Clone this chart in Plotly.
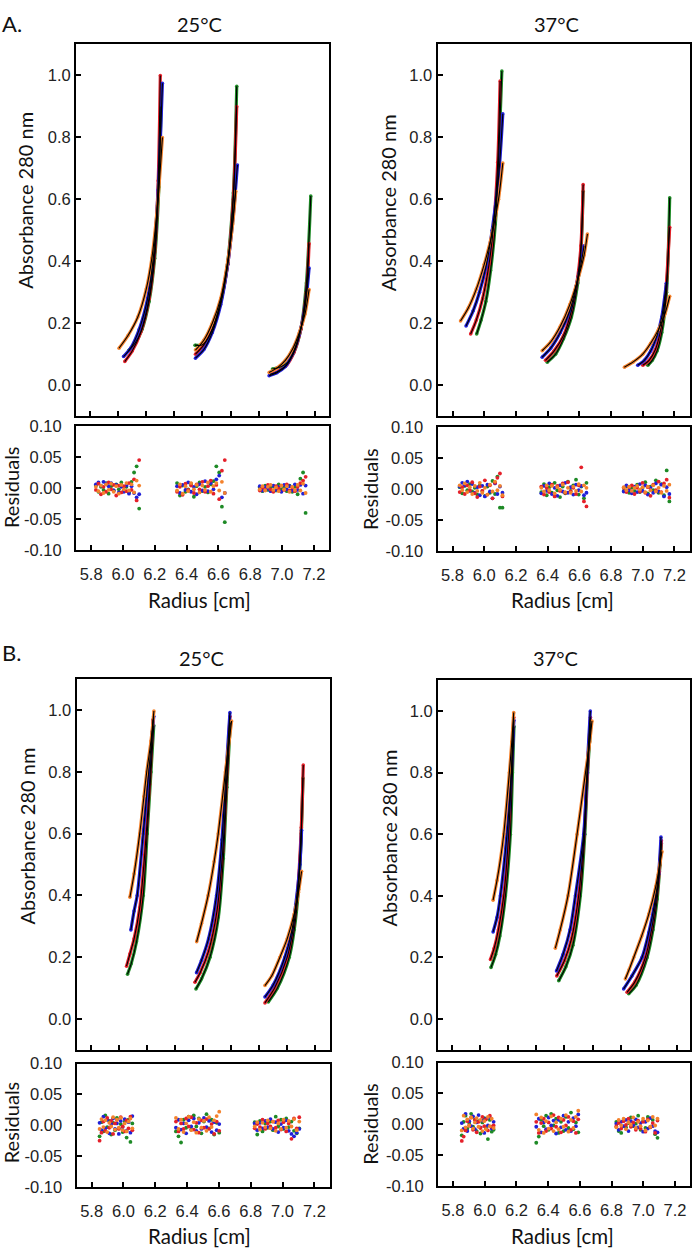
import plotly.graph_objects as go

W, H = 693, 1256

# ---------------- data: absorbance scans (3 cells, 4 speeds per panel) ----------------
A25_ORANGE_X = [[5.806, 5.87, 5.94, 6.00, 6.04, 6.08, 6.115], [6.35, 6.41, 6.47, 6.53, 6.58, 6.615, 6.637], [6.874, 6.93, 6.99, 7.04, 7.09, 7.13, 7.159]]
A25_ORANGE_Y = [[0.119, 0.16, 0.22, 0.31, 0.41, 0.58, 0.80], [0.113, 0.145, 0.20, 0.28, 0.40, 0.52, 0.626], [0.041, 0.055, 0.08, 0.115, 0.17, 0.23, 0.309]]
A25_BLUE_X = [[5.838, 5.89, 5.95, 6.01, 6.05, 6.085, 6.115], [6.35, 6.41, 6.47, 6.53, 6.58, 6.62, 6.649], [6.874, 6.93, 6.99, 7.04, 7.09, 7.13, 7.159]]
A25_BLUE_Y = [[0.092, 0.12, 0.18, 0.28, 0.41, 0.63, 0.975], [0.087, 0.115, 0.17, 0.26, 0.39, 0.55, 0.711], [0.03, 0.04, 0.06, 0.10, 0.165, 0.25, 0.378]]
A25_RED_X = [[5.847, 5.90, 5.96, 6.02, 6.06, 6.085, 6.10], [6.35, 6.41, 6.47, 6.53, 6.58, 6.62, 6.644], [6.88, 6.94, 7.00, 7.05, 7.10, 7.14, 7.159]]
A25_RED_Y = [[0.076, 0.11, 0.17, 0.28, 0.43, 0.66, 1.0], [0.10, 0.13, 0.18, 0.27, 0.39, 0.60, 0.90], [0.034, 0.045, 0.065, 0.105, 0.18, 0.30, 0.457]]
A25_GREEN_X = [[5.875, 5.92, 5.97, 6.02, 6.06, 6.09, 6.105], [6.347, 6.40, 6.46, 6.52, 6.575, 6.62, 6.644], [6.898, 6.95, 7.00, 7.05, 7.10, 7.14, 7.171]]
A25_GREEN_Y = [[0.112, 0.135, 0.18, 0.27, 0.41, 0.64, 0.90], [0.129, 0.13, 0.17, 0.25, 0.38, 0.62, 0.965], [0.052, 0.058, 0.07, 0.105, 0.18, 0.33, 0.611]]

A37_ORANGE_X = [[5.85, 5.90, 5.95, 6.00, 6.05, 6.09, 6.117], [6.365, 6.42, 6.48, 6.54, 6.59, 6.63, 6.651], [6.884, 6.94, 7.00, 7.05, 7.10, 7.14, 7.17]]
A37_ORANGE_Y = [[0.207, 0.25, 0.31, 0.39, 0.49, 0.60, 0.717], [0.111, 0.14, 0.19, 0.26, 0.34, 0.42, 0.488], [0.058, 0.075, 0.10, 0.135, 0.18, 0.23, 0.287]]
A37_BLUE_X = [[5.885, 5.93, 5.97, 6.01, 6.05, 6.09, 6.117], [6.365, 6.42, 6.48, 6.54, 6.58, 6.61, 6.63], [6.968, 7.01, 7.05, 7.09, 7.12, 7.149]]
A37_BLUE_Y = [[0.191, 0.24, 0.30, 0.38, 0.50, 0.67, 0.876], [0.09, 0.12, 0.17, 0.24, 0.32, 0.39, 0.45], [0.064, 0.08, 0.11, 0.16, 0.22, 0.329]]
A37_RED_X = [[5.914, 5.95, 5.99, 6.03, 6.06, 6.085, 6.10], [6.386, 6.44, 6.50, 6.55, 6.59, 6.61, 6.624], [7.0, 7.04, 7.08, 7.11, 7.14, 7.17]]
A37_RED_Y = [[0.165, 0.21, 0.28, 0.39, 0.52, 0.72, 0.982], [0.08, 0.11, 0.16, 0.24, 0.35, 0.45, 0.648], [0.064, 0.08, 0.115, 0.17, 0.27, 0.51]]
A37_GREEN_X = [[5.952, 5.98, 6.01, 6.04, 6.07, 6.09, 6.111], [6.397, 6.45, 6.50, 6.55, 6.59, 6.61, 6.624], [7.032, 7.06, 7.09, 7.12, 7.15, 7.17]]
A37_GREEN_Y = [[0.165, 0.21, 0.27, 0.37, 0.52, 0.72, 1.014], [0.074, 0.10, 0.15, 0.22, 0.33, 0.43, 0.626], [0.064, 0.08, 0.11, 0.17, 0.30, 0.605]]

B25_ORANGE_X = [[5.88, 5.91, 5.95, 5.98, 6.00, 6.03, 6.051], [6.355, 6.39, 6.437, 6.48, 6.509, 6.56, 6.604], [6.841, 6.89, 6.948, 7.00, 7.05, 7.08, 7.102]]
B25_ORANGE_Y = [[0.394, 0.47, 0.60, 0.72, 0.80, 0.90, 0.997], [0.25, 0.31, 0.40, 0.51, 0.60, 0.80, 0.965], [0.108, 0.14, 0.20, 0.26, 0.34, 0.41, 0.478]]
B25_BLUE_X = [[5.887, 5.91, 5.932, 5.975, 6.01, 6.04, 6.05], [6.354, 6.39, 6.44, 6.497, 6.535, 6.565, 6.592], [6.841, 6.90, 6.983, 7.03, 7.06, 7.09, 7.102]]
B25_BLUE_Y = [[0.288, 0.35, 0.40, 0.60, 0.78, 0.93, 0.98], [0.15, 0.19, 0.26, 0.40, 0.58, 0.80, 0.992], [0.071, 0.11, 0.20, 0.28, 0.37, 0.50, 0.611]]
B25_RED_X = [[5.856, 5.88, 5.91, 5.95, 5.985, 6.02, 6.045], [6.343, 6.38, 6.44, 6.50, 6.54, 6.567, 6.592], [6.841, 6.91, 7.00, 7.045, 7.075, 7.10, 7.114]]
B25_RED_Y = [[0.171, 0.21, 0.26, 0.36, 0.53, 0.76, 0.97], [0.119, 0.15, 0.22, 0.35, 0.54, 0.76, 0.98], [0.052, 0.10, 0.20, 0.30, 0.42, 0.62, 0.822]]
B25_GREEN_X = [[5.863, 5.89, 5.927, 5.975, 6.003, 6.03, 6.05], [6.35, 6.39, 6.45, 6.51, 6.545, 6.57, 6.595], [6.865, 6.93, 7.014, 7.05, 7.08, 7.10, 7.112]]
B25_GREEN_Y = [[0.145, 0.18, 0.25, 0.40, 0.60, 0.80, 0.95], [0.097, 0.13, 0.20, 0.33, 0.52, 0.75, 0.96], [0.055, 0.10, 0.20, 0.29, 0.42, 0.60, 0.78]]

B37_ORANGE_X = [[5.892, 5.92, 5.945, 5.968, 6.008, 6.025, 6.039], [6.335, 6.37, 6.425, 6.49, 6.55, 6.58, 6.596], [6.833, 6.86, 6.893, 6.95, 7.00, 7.05, 7.094]]
B37_ORANGE_Y = [[0.386, 0.45, 0.52, 0.60, 0.80, 0.90, 0.995], [0.23, 0.29, 0.40, 0.60, 0.80, 0.90, 0.968], [0.13, 0.16, 0.20, 0.27, 0.34, 0.43, 0.544]]
B37_BLUE_X = [[5.892, 5.92, 5.944, 5.991, 6.022, 6.035, 6.04], [6.343, 6.39, 6.44, 6.478, 6.537, 6.56, 6.584], [6.821, 6.88, 6.952, 7.00, 7.04, 7.07, 7.087]]
B37_BLUE_Y = [[0.283, 0.33, 0.40, 0.60, 0.80, 0.92, 0.97], [0.156, 0.21, 0.29, 0.40, 0.60, 0.80, 1.0], [0.098, 0.14, 0.20, 0.28, 0.37, 0.47, 0.591]]
B37_RED_X = [[5.873, 5.90, 5.93, 5.968, 6.003, 6.022, 6.039], [6.345, 6.40, 6.45, 6.501, 6.54, 6.563, 6.585], [6.845, 6.90, 6.976, 7.02, 7.05, 7.075, 7.09]]
B37_RED_Y = [[0.193, 0.23, 0.29, 0.40, 0.60, 0.80, 0.98], [0.14, 0.19, 0.26, 0.40, 0.60, 0.80, 0.98], [0.087, 0.12, 0.20, 0.29, 0.38, 0.48, 0.58]]
B37_GREEN_X = [[5.877, 5.91, 5.94, 5.98, 6.015, 6.03, 6.041], [6.359, 6.41, 6.46, 6.513, 6.545, 6.565, 6.588], [6.857, 6.91, 6.988, 7.03, 7.06, 7.08, 7.09]]
B37_GREEN_Y = [[0.167, 0.21, 0.27, 0.40, 0.60, 0.80, 0.95], [0.124, 0.17, 0.24, 0.40, 0.60, 0.80, 0.96], [0.082, 0.11, 0.20, 0.29, 0.39, 0.50, 0.57]]

# ---------------- data: residuals (radius per cell; residuals in 1/1000 absorbance) ----------------
A25_RES_X = [[5.83, 5.846, 5.862, 5.878, 5.894, 5.91, 5.926, 5.942, 5.958, 5.974, 5.99, 6.006, 6.022, 6.038, 6.054, 6.07, 6.086, 6.102],
             [6.34, 6.358, 6.375, 6.393, 6.41, 6.428, 6.446, 6.463, 6.481, 6.499, 6.516, 6.534, 6.552, 6.569, 6.587, 6.605, 6.622, 6.64],
             [6.86, 6.877, 6.894, 6.911, 6.928, 6.945, 6.962, 6.979, 6.996, 7.013, 7.03, 7.047, 7.064, 7.081, 7.098, 7.115, 7.132, 7.148]]
A25_RES_ORANGE = [[2, -5, 4, -8, 6, -3, 7, -6, 3, -9, 5, -2, 8, -4, 6, -7, 12, 4],
                  [-4, 6, -9, 3, -5, 8, -2, 5, -7, 4, -3, 9, -6, 3, 8, -4, 10, -8],
                  [-2, 3, -4, 2, 5, -3, 1, -5, 4, -2, 3, -6, 2, -3, 5, -4, 7, -8]]
A25_RES_BLUE = [[6, 9, 4, 10, 7, 3, 8, -4, 5, -7, 2, -6, 4, -9, 3, -8, -15, -10],
                [3, -8, 5, -3, 9, -6, 2, -10, 6, -4, 11, -5, 8, -2, 14, 20, -15, -8],
                [3, -4, 2, -1, -5, 4, -3, 2, -6, 5, -2, 3, -4, 6, -3, 5, -9, 4]]
A25_RES_RED = [[-3, 7, -10, 2, -6, 9, -2, 5, -12, 4, -7, 3, -5, 8, -3, 14, -20, 45],
               [-6, 2, -11, 7, -3, 4, -8, 6, -2, 10, -6, 3, 12, -9, 5, -18, 28, 45],
               [-4, 1, -3, 5, -2, -6, 3, -1, 4, -3, 6, -4, 1, -5, 2, 8, 12, 18]]
A25_RES_GREEN = [[4, -6, 2, -3, 8, -9, 3, -4, 6, -2, 9, -5, 2, -7, 10, 25, 35, -33],
                 [8, -12, 4, -6, -2, 7, -14, 3, 9, -5, 2, -7, 6, 11, 35, 25, -30, -55],
                 [1, -5, 4, -3, 2, 3, -4, 6, -2, 1, -5, 4, -6, 2, -10, 15, 25, -40]]

A37_RES_X = [[5.845, 5.861, 5.877, 5.893, 5.909, 5.924, 5.94, 5.956, 5.972, 5.988, 6.004, 6.02, 6.036, 6.052, 6.068, 6.083, 6.099, 6.115],
             [6.36, 6.377, 6.394, 6.41, 6.427, 6.444, 6.461, 6.478, 6.495, 6.511, 6.528, 6.545, 6.562, 6.579, 6.596, 6.612, 6.629, 6.645],
             [6.88, 6.897, 6.914, 6.931, 6.948, 6.965, 6.982, 6.999, 7.016, 7.032, 7.049, 7.066, 7.083, 7.1, 7.117, 7.134, 7.151, 7.168]]
A37_RES_ORANGE = [[6, -2, 9, -5, 3, -8, 5, -3, 10, -6, 2, -9, 7, -4, 12, -2, 5, -10],
                  [2, -4, 6, -2, 5, -7, 3, -1, 7, -5, 2, -6, 4, -3, 8, -4, 6, 2],
                  [3, -2, 4, -3, 2, 5, -1, 3, -5, 4, -2, 6, -4, 2, -6, 5, -3, 7]]
A37_RES_BLUE = [[4, 10, 6, 12, -3, 8, -6, 3, -10, 5, -12, 7, -4, -15, 9, -8, 4, -6],
                [-7, 5, -3, 9, -8, 2, -11, 6, -4, 10, -6, 3, -9, 7, -2, 5, -10, -6],
                [-4, 6, -2, -7, 4, -5, 8, -3, 6, -9, 2, -6, 9, -4, 7, -12, 3, -8]]
A37_RES_RED = [[-5, 3, -8, 6, -2, 11, -7, -13, 4, -3, 14, -9, 6, -15, 10, 18, 25, -12],
               [4, -9, 2, -5, 7, -12, 5, -3, 9, -6, 11, -4, 2, -8, 6, 35, -20, -28],
               [2, -5, 3, 6, -8, 2, -4, 10, -6, 3, -11, 7, -2, 12, -5, 9, 15, -14]]
A37_RES_GREEN = [[3, -7, 5, -2, 8, -4, 2, -9, 6, -3, -11, 4, -6, 13, -8, 20, -30, -30],
                 [-5, 8, -10, 3, -6, 10, -2, -13, 4, -7, 12, -3, 6, 15, -9, 4, -15, 10],
                 [-3, 4, -6, 2, -3, 7, -5, 2, 11, -7, 4, -2, 14, -6, 8, -10, 30, -20]]

B25_RES_X = [[5.85, 5.862, 5.874, 5.886, 5.898, 5.911, 5.923, 5.935, 5.947, 5.959, 5.971, 5.983, 5.995, 6.008, 6.02, 6.032, 6.044, 6.056],
             [6.33, 6.346, 6.362, 6.378, 6.394, 6.41, 6.426, 6.442, 6.458, 6.474, 6.49, 6.506, 6.522, 6.538, 6.554, 6.57, 6.586, 6.602],
             [6.825, 6.841, 6.858, 6.874, 6.891, 6.907, 6.924, 6.94, 6.957, 6.973, 6.99, 7.006, 7.023, 7.039, 7.056, 7.072, 7.089, 7.105]]
B25_RES_ORANGE = [[-6, 10, -3, 8, -11, 4, -2, 13, -7, 9, -4, 12, -8, 3, -10, 6, 11, -5],
                  [12, -6, 9, -11, 3, 14, -8, 5, -12, 10, -4, 7, -9, 13, -3, 8, 15, 22],
                  [-2, 5, -7, 4, -3, 8, -5, 6, -9, 3, -6, 9, -4, 7, -2, 10, -8, 6]]
B25_RES_BLUE = [[4, -8, 14, -5, 9, -13, 2, 11, -6, 3, -14, 7, -3, 10, -9, 5, -12, 15],
                [-4, 9, -7, 3, -13, 8, -2, 11, -9, 4, -6, 12, -3, 7, -11, 5, -8, 2],
                [3, -8, 4, -5, 7, -3, 10, -6, 5, -11, 2, -4, 8, -9, -14, -18, -12, -6]]
B25_RES_RED = [[-25, -12, 6, -9, 12, -4, 7, -14, 3, 9, -6, 13, -2, -10, 8, -5, 14, -8],
               [6, -10, 3, -6, 11, -2, 13, -7, 4, -12, 8, -4, 10, -6, 2, -14, 6, -9],
               [-5, 2, -3, 9, -6, 3, -2, 6, -4, 8, -7, 5, -10, 3, -22, 11, -5, 13]]
B25_RES_GREEN = [[-18, 5, -10, 16, -3, 7, -15, 4, -8, 12, -5, 2, -11, 6, -20, 9, -27, 3],
                 [-10, -18, -28, 9, -4, 14, -7, 16, -2, 11, -13, 6, 18, -5, 9, -15, 4, -12],
                 [5, -15, 7, -10, 3, -4, 6, -8, 14, -2, 9, -6, 11, -3, 6, -9, -13, -5]]

B37_RES_X = [[5.855, 5.867, 5.879, 5.89, 5.902, 5.914, 5.926, 5.938, 5.949, 5.961, 5.973, 5.985, 5.997, 6.008, 6.02, 6.032, 6.044, 6.056],
             [6.325, 6.341, 6.356, 6.372, 6.387, 6.403, 6.419, 6.434, 6.45, 6.466, 6.481, 6.497, 6.512, 6.528, 6.544, 6.559, 6.575, 6.59],
             [6.83, 6.845, 6.861, 6.876, 6.891, 6.907, 6.922, 6.937, 6.953, 6.968, 6.983, 6.999, 7.014, 7.029, 7.045, 7.06, 7.075, 7.09]]
B37_RES_ORANGE = [[-10, 14, -5, 8, -2, 11, -7, 3, 10, -4, 7, -11, 5, -8, 12, -3, 9, -6],
                  [16, -9, 11, -14, 5, -7, 13, -11, 3, -8, 9, -4, 15, -12, 7, -6, 12, 22],
                  [-5, 7, -2, 9, -8, 3, -1, 11, -6, 4, -3, 9, -10, 6, -4, 12, -2, 9]]
B37_RES_BLUE = [[2, -7, 17, -11, 5, -3, 13, -8, 3, 15, -5, 6, -14, 9, -2, 11, -7, 4],
                [-4, 9, -13, 3, -8, 11, -2, 6, -15, 7, -5, 14, -9, 4, -11, 10, -3, 16],
                [1, -9, 4, -3, 7, -11, 5, -2, 8, -5, 2, -12, 4, -7, 10, -3, -11, -13]]
B37_RES_RED = [[-27, -20, -10, 5, -2, 11, -9, 7, -13, 4, -6, 12, -3, 8, -10, 14, -4, -2],
               [4, -14, 2, 9, -11, 3, -7, 15, -4, 11, -13, 7, -2, 12, -9, 5, -14, 8],
               [-3, 2, -7, 5, -1, 9, -4, 3, -9, 6, -7, 4, -12, 8, -5, 2, -14, 6]]
B37_RES_GREEN = [[-18, 4, 14, -7, 2, 17, -4, 8, -11, 5, -15, 3, 10, -6, -24, 7, -12, -9],
                 [-30, -20, 7, -3, 14, -9, 17, -2, 9, -14, 4, -11, 12, -6, 19, -8, 3, -13],
                 [4, -11, -14, 7, -5, 2, 11, -3, 1, 14, -9, 5, -6, 12, -4, 7, -16, -22]]

TOP_TICKS_9 = [5.6, 5.8, 6.0, 6.2, 6.4, 6.6, 6.8, 7.0, 7.2]
RADIUS_TICKS = [5.8, 6.0, 6.2, 6.4, 6.6, 6.8, 7.0, 7.2]
RADIUS_LABELS = ["5.8", "6.0", "6.2", "6.4", "6.6", "6.8", "7.0", "7.2"]
ABS_TICKS = [0.0, 0.2, 0.4, 0.6, 0.8, 1.0]
ABS_LABELS = ["0.0", "0.2", "0.4", "0.6", "0.8", "1.0"]
RES_TICKS = [-0.10, -0.05, 0.0, 0.05, 0.10]
RES_LABELS = ["-0.10", "-0.05", "0.00", "0.05", "0.10"]

COLORS = {"orange": "#F4822C", "blue": "#2020D8", "red": "#E5202A", "green": "#1E8A26"}

PANEL_DATA = {
    "A25": {"orange": (A25_ORANGE_X, A25_ORANGE_Y), "blue": (A25_BLUE_X, A25_BLUE_Y),
            "red": (A25_RED_X, A25_RED_Y), "green": (A25_GREEN_X, A25_GREEN_Y)},
    "A37": {"orange": (A37_ORANGE_X, A37_ORANGE_Y), "blue": (A37_BLUE_X, A37_BLUE_Y),
            "red": (A37_RED_X, A37_RED_Y), "green": (A37_GREEN_X, A37_GREEN_Y)},
    "B25": {"orange": (B25_ORANGE_X, B25_ORANGE_Y), "blue": (B25_BLUE_X, B25_BLUE_Y),
            "red": (B25_RED_X, B25_RED_Y), "green": (B25_GREEN_X, B25_GREEN_Y)},
    "B37": {"orange": (B37_ORANGE_X, B37_ORANGE_Y), "blue": (B37_BLUE_X, B37_BLUE_Y),
            "red": (B37_RED_X, B37_RED_Y), "green": (B37_GREEN_X, B37_GREEN_Y)},
}
RES_DATA = {
    "A25": (A25_RES_X, {"orange": A25_RES_ORANGE, "blue": A25_RES_BLUE, "red": A25_RES_RED, "green": A25_RES_GREEN}),
    "A37": (A37_RES_X, {"orange": A37_RES_ORANGE, "blue": A37_RES_BLUE, "red": A37_RES_RED, "green": A37_RES_GREEN}),
    "B25": (B25_RES_X, {"orange": B25_RES_ORANGE, "blue": B25_RES_BLUE, "red": B25_RES_RED, "green": B25_RES_GREEN}),
    "B37": (B37_RES_X, {"orange": B37_RES_ORANGE, "blue": B37_RES_BLUE, "red": B37_RES_RED, "green": B37_RES_GREEN}),
}

# ---------------- layout geometry (pixels) ----------------
PANELS = [
    dict(key="A25", top=(76, 329, 36, 413), res=(76, 329, 423, 549), nine=True),
    dict(key="A37", top=(437.5, 689.5, 36, 413), res=(437.5, 689.5, 424, 550), nine=False),
    dict(key="B25", top=(76.5, 329.5, 680, 1056), res=(76.5, 329.5, 1070, 1195), nine=True),
    dict(key="B37", top=(438, 690, 681, 1056), res=(438, 690, 1069, 1194), nine=True),
]

TICKFONT = dict(family="Liberation Sans, Arial, sans-serif", size=16.5, color="#222222")
TXTFONT = "Lato, Carlito, Calibri, sans-serif"
RES_RANGE = [5.705, 7.295]


def dx(a, b):
    return [a / W, b / W]


def dy(top, bottom):
    return [1 - bottom / H, 1 - top / H]


fig = go.Figure()
layout = dict(width=W, height=H, margin=dict(l=0, r=0, t=0, b=0), showlegend=False,
              paper_bgcolor="white", plot_bgcolor="white")

common_axis = dict(showline=True, linecolor="black", linewidth=2, mirror=True, ticks="inside",
                   ticklen=5, tickwidth=1.8, tickcolor="black", showgrid=False, zeroline=False,
                   tickfont=TICKFONT, fixedrange=True)

ax = 1
for p in PANELS:
    key = p["key"]
    # ---- top (absorbance) subplot ----
    xt, yt = ax, ax
    x0, x1, y0, y1 = p["top"]
    if p["nine"]:
        xr = [5.5, 5.5 + (x1 - x0) / 140.5]
        xtv = TOP_TICKS_9
    else:
        xr = RES_RANGE
        xtv = RADIUS_TICKS
    layout[f"xaxis{xt}"] = dict(common_axis, domain=dx(x0, x1), range=xr, tickvals=xtv,
                                showticklabels=False, anchor=f"y{yt}")
    layout[f"yaxis{yt}"] = dict(common_axis, domain=dy(y0, y1), range=[-0.1, 1.1], tickvals=ABS_TICKS,
                                ticktext=ABS_LABELS, anchor=f"x{xt}", ticklabelstandoff=0)
    order = ["green", "red", "blue", "orange"]
    for c in order:
        xs_all, ys_all = PANEL_DATA[key][c]
        for xs, ys in zip(xs_all, ys_all):
            fig.add_trace(go.Scatter(x=xs, y=ys, mode="lines+markers",
                                     line=dict(color=COLORS[c], width=3.2, shape="spline", smoothing=0.8),
                                     marker=dict(color=COLORS[c], size=3.5),
                                     xaxis=f"x{xt}", yaxis=f"y{yt}", hoverinfo="skip"))
    for c in order:
        xs_all, ys_all = PANEL_DATA[key][c]
        for xs, ys in zip(xs_all, ys_all):
            fig.add_trace(go.Scatter(x=xs, y=ys, mode="lines",
                                     line=dict(color="black", width=1.1, shape="spline", smoothing=0.8),
                                     xaxis=f"x{xt}", yaxis=f"y{yt}", hoverinfo="skip"))
    ax += 1

    # ---- residual subplot ----
    xr_, yr_ = ax, ax
    x0, x1, y0, y1 = p["res"]
    layout[f"xaxis{xr_}"] = dict(common_axis, domain=dx(x0, x1), range=RES_RANGE, tickvals=RADIUS_TICKS,
                                 ticktext=RADIUS_LABELS, anchor=f"y{yr_}", ticklabelstandoff=8)
    layout[f"yaxis{yr_}"] = dict(common_axis, domain=dy(y0, y1), range=[-0.1, 0.1], tickvals=RES_TICKS,
                                 ticktext=RES_LABELS, anchor=f"x{xr_}", ticklabelstandoff=9)
    rx, rdict = RES_DATA[key]
    for c in ["green", "blue", "red", "orange"]:
        xs, ys = [], []
        for cx, cy in zip(rx, rdict[c]):
            xs += cx
            ys += [v / 1000 for v in cy]
        fig.add_trace(go.Scatter(x=xs, y=ys, mode="markers",
                                 marker=dict(color=COLORS[c], size=3.8),
                                 xaxis=f"x{xr_}", yaxis=f"y{yr_}", hoverinfo="skip"))
    ax += 1

fig.update_layout(**layout)

# ---------------- text ----------------
def ann(text, px, py, size, angle=0, anchor="center"):
    fig.add_annotation(text=text, x=px / W, y=1 - py / H, xref="paper", yref="paper",
                       xanchor=anchor, yanchor="middle", showarrow=False, textangle=angle,
                       font=dict(family=TXTFONT, size=size, color="#111111"))

ann("A.", 0, 14.5, 22, anchor="left")
ann("B.", 0, 653, 22, anchor="left")
for (tx, ty, t) in [(200, 15, "25°C"), (556, 15, "37°C"), (201, 658, "25°C"), (555, 658, "37°C")]:
    ann(t, tx, ty, 20)
for (tx, ty) in [(25.5, 194), (388, 197), (26.5, 839), (388.5, 841)]:
    ann("Absorbance 280 nm", tx, ty, 20, angle=-90)
for (tx, ty) in [(11, 485), (370, 487), (10.5, 1130), (370, 1131)]:
    ann("Residuals", tx, ty, 20, angle=-90)
for (tx, ty) in [(199, 600), (562, 600), (199, 1245), (562, 1245)]:
    ann("Radius [cm]", tx, ty, 20.5)

fig.write_html("out.html", config={"displayModeBar": False},
               post_script="document.body.style.margin='0px';document.body.style.overflow='hidden';")
